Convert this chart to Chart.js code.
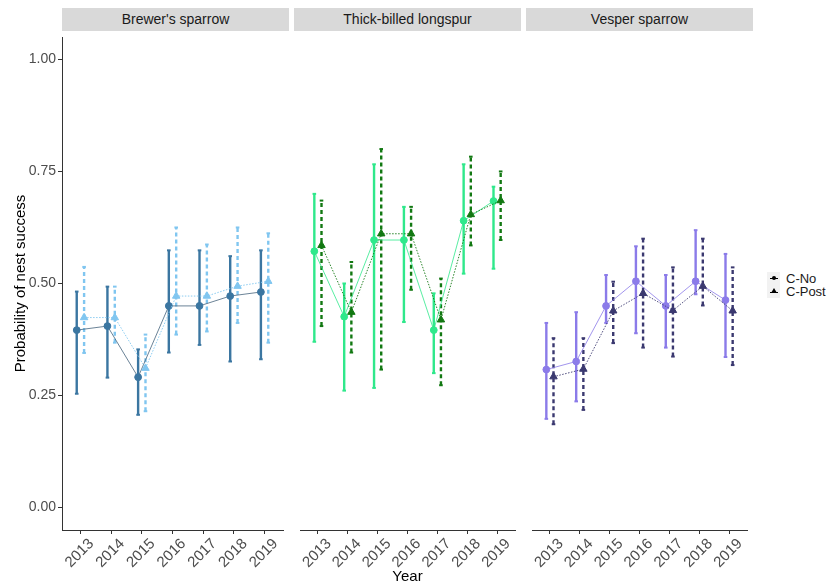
<!DOCTYPE html>
<html>
<head>
<meta charset="utf-8">
<script src="https://cdn.jsdelivr.net/npm/chart.js@4.4.1/dist/chart.umd.min.js"></script>
<style>
  body { margin: 0; background: #fff; }
  #wrap { position: relative; width: 836px; height: 586px; font-family: "Liberation Sans", Arial, sans-serif; }
  .strip { position: absolute; top: 8px; height: 23px; background: #d9d9d9; color: #1a1a1a;
           font-size: 14px; line-height: 23px; text-align: center; }
  canvas { position: absolute; top: 31px; }
  .key { position: absolute; left: 767px; width: 13px; height: 13px; background: #f2f2f2; }
  .lab { position: absolute; left: 786px; font-size: 13px; color: #1a1a1a; line-height: 13px; }
</style>
</head>
<body>
<div id="wrap">
  <div class="strip" style="left:62px;width:227px">Brewer's sparrow</div>
  <div class="strip" style="left:294px;width:227px">Thick-billed longspur</div>
  <div class="strip" style="left:526px;width:227px">Vesper sparrow</div>
  <canvas id="c1" width="289" height="555" style="left:0px"></canvas>
  <canvas id="c2" width="227" height="555" style="left:294px"></canvas>
  <canvas id="c3" width="227" height="555" style="left:526px"></canvas>

  <div class="key" style="top:272px"></div>
  <div class="key" style="top:285px"></div>
  <div style="position:absolute;left:770px;top:278px;width:8px;height:1px;background:#000"></div>
  <div style="position:absolute;left:772px;top:276px;width:4px;height:4px;border-radius:2px;background:#000"></div>
  <div style="position:absolute;left:770px;top:292px;width:8px;height:1px;background:#000"></div>
  <div style="position:absolute;left:771px;top:288px;width:0;height:0;border-left:3px solid transparent;border-right:3px solid transparent;border-bottom:5px solid #000"></div>
  <div class="lab" style="top:272px">C-No</div>
  <div class="lab" style="top:285px">C-Post</div>
</div>
<script>
const years = ["2013", "2014", "2015", "2016", "2017", "2018", "2019"];
const yTicks = [0, 0.25, 0.5, 0.75, 1];

// Brewer's sparrow
const brewerNo     = [0.396, 0.405, 0.291, 0.450, 0.450, 0.472, 0.481];
const brewerNoLo   = [0.254, 0.290, 0.207, 0.346, 0.363, 0.326, 0.331];
const brewerNoHi   = [0.482, 0.493, 0.353, 0.574, 0.574, 0.561, 0.574];
const brewerPost   = [0.424, 0.424, 0.311, 0.472, 0.472, 0.494, 0.505];
const brewerPostLo = [0.345, 0.368, 0.215, 0.386, 0.393, 0.412, 0.368];
const brewerPostHi = [0.537, 0.493, 0.386, 0.625, 0.587, 0.625, 0.612];

// Thick-billed longspur
const longspurNo     = [0.572, 0.426, 0.597, 0.597, 0.396, 0.640, 0.684];
const longspurNoLo   = [0.370, 0.261, 0.267, 0.414, 0.300, 0.522, 0.533];
const longspurNoHi   = [0.700, 0.500, 0.766, 0.671, 0.478, 0.766, 0.716];
const longspurPost   = [0.585, 0.436, 0.611, 0.611, 0.419, 0.654, 0.685];
const longspurPostLo = [0.405, 0.346, 0.308, 0.486, 0.273, 0.585, 0.597];
const longspurPostHi = [0.685, 0.548, 0.800, 0.671, 0.511, 0.783, 0.750];

// Vesper sparrow
const vesperNo     = [0.308, 0.326, 0.450, 0.505, 0.450, 0.505, 0.463];
const vesperNoLo   = [0.198, 0.237, 0.412, 0.389, 0.357, 0.476, 0.336];
const vesperNoHi   = [0.412, 0.436, 0.519, 0.583, 0.519, 0.619, 0.566];
const vesperPost   = [0.292, 0.309, 0.439, 0.478, 0.440, 0.494, 0.439];
const vesperPostLo = [0.186, 0.218, 0.367, 0.357, 0.337, 0.451, 0.318];
const vesperPostHi = [0.378, 0.378, 0.504, 0.600, 0.536, 0.600, 0.536];

const dodge = 0.12;
const tickCol = "#4d4d4d";
const axisCol = "#333333";

function pts(vals, off) {
  return vals.map((v, i) => ({ x: i + off, y: v }));
}

// each bar is two points followed by a gap
function bars(lo, hi, off) {
  const out = [];
  lo.forEach((v, i) => {
    out.push({ x: i + off, y: v });
    out.push({ x: i + off, y: hi[i] });
    out.push({ x: i + off, y: null });
  });
  return out;
}

function makePanel(id, no, noLo, noHi, post, postLo, postHi, colNo, colPost, lineNo, linePost, first, middle) {
  const ctx = document.getElementById(id).getContext("2d");
  return new Chart(ctx, {
    type: "line",
    data: {
      datasets: [
        {
          label: "C-No",
          data: pts(no, -dodge),
          borderColor: lineNo,
          borderWidth: 1,
          backgroundColor: colNo,
          pointBackgroundColor: colNo,
          pointBorderColor: colNo,
          pointStyle: "circle",
          pointRadius: 3.4,
          order: 1,
        },
        {
          label: "C-Post",
          data: pts(post, dodge),
          borderColor: linePost,
          borderWidth: 1,
          borderDash: [1.5, 1.5],
          backgroundColor: colPost,
          pointBackgroundColor: colPost,
          pointBorderColor: colPost,
          pointStyle: "triangle",
          pointRadius: 4.3,
          order: 0,
        },
        {
          label: "C-No CI",
          data: bars(noLo, noHi, -dodge),
          borderColor: colNo,
          borderWidth: 2.4,
          spanGaps: false,
          pointStyle: "line",
          pointRadius: 1.8,
          pointBorderWidth: 2,
          pointBorderColor: colNo,
          order: 3,
        },
        {
          label: "C-Post CI",
          data: bars(postLo, postHi, dodge),
          borderColor: colPost,
          borderWidth: 2.4,
          borderDash: [4, 3],
          spanGaps: false,
          pointStyle: "line",
          pointRadius: 1.8,
          pointBorderWidth: 2,
          pointBorderColor: colPost,
          order: 2,
        },
      ],
    },
    options: {
      responsive: false,
      animation: false,
      layout: { padding: 0 },
      plugins: { legend: { display: false }, tooltip: { enabled: false } },
      scales: {
        x: {
          type: "linear",
          min: -0.6,
          max: 6.6,
          afterBuildTicks: (s) => { s.ticks = years.map((y, i) => ({ value: i })); },
          afterFit: (s) => { s.height = 56; s.paddingLeft = 0; s.paddingRight = 0; },
          ticks: {
            autoSkip: false,
            minRotation: 45,
            maxRotation: 45,
            padding: 1,
            labelOffset: 11,
            color: tickCol,
            font: { family: "Liberation Sans", size: 15 },
            callback: (v) => years[v],
          },
          grid: { drawOnChartArea: false, drawTicks: true, tickLength: 4, color: axisCol },
          border: { display: true, color: axisCol, width: 1 },
          title: {
            display: middle,
            text: "Year",
            color: "#000",
            font: { family: "Liberation Sans", size: 15 },
            padding: { top: 4, bottom: 0 },
          },
        },
        y: {
          display: first,
          min: -0.05,
          max: 1.05,
          afterBuildTicks: (s) => { s.ticks = yTicks.map((v) => ({ value: v })); },
          afterFit: (s) => { if (first) s.width = 62; s.paddingTop = 0; s.paddingBottom = 0; },
          ticks: {
            padding: 2,
            color: tickCol,
            font: { family: "Liberation Sans", size: 14 },
            callback: (v) => v.toFixed(2),
          },
          grid: { drawOnChartArea: false, drawTicks: true, tickLength: 4, color: axisCol },
          border: { display: true, color: axisCol, width: 1 },
          title: {
            display: first,
            text: "Probability of nest success",
            color: "#000",
            font: { family: "Liberation Sans", size: 15 },
            padding: { top: 12, bottom: 0 },
          },
        },
      },
    },
  });
}

makePanel("c1", brewerNo, brewerNoLo, brewerNoHi, brewerPost, brewerPostLo, brewerPostHi,
  "#3b76a1", "#80c6f0", "rgba(70,100,125,0.8)", "rgba(128,198,240,0.9)", true, false);
makePanel("c2", longspurNo, longspurNoLo, longspurNoHi, longspurPost, longspurPostLo, longspurPostHi,
  "#2fe88b", "#127812", "rgba(47,232,139,0.8)", "rgba(18,120,18,0.9)", false, true);
makePanel("c3", vesperNo, vesperNoLo, vesperNoHi, vesperPost, vesperPostLo, vesperPostHi,
  "#8b7be9", "#3b3970", "rgba(139,123,233,0.8)", "rgba(59,57,112,0.9)", false, false);
</script>
</body>
</html>
